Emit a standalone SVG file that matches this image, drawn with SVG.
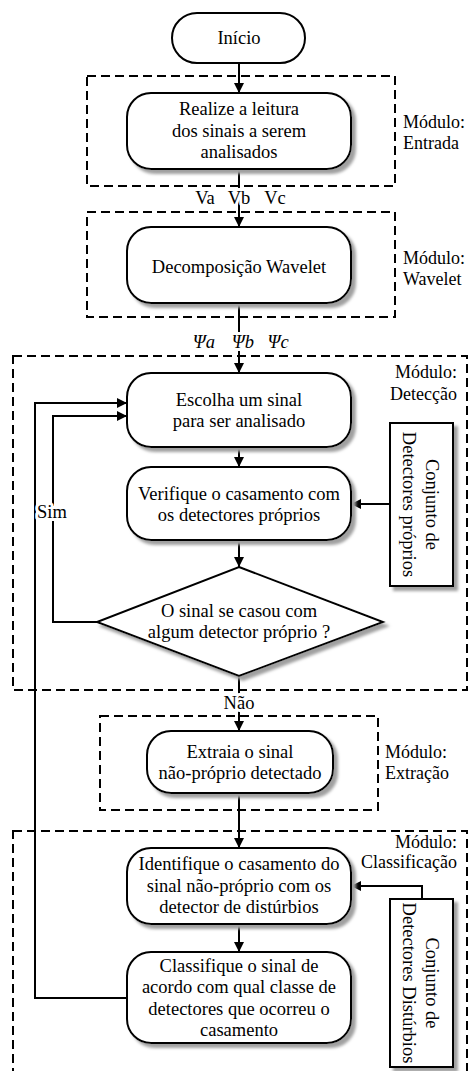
<svg xmlns="http://www.w3.org/2000/svg" width="468" height="1071" viewBox="0 0 468 1071">
<defs>
<filter id="sh" x="-10%" y="-10%" width="130%" height="130%">
<feGaussianBlur in="SourceAlpha" stdDeviation="1.5" result="b"/>
<feOffset in="b" dx="4" dy="4" result="o"/>
<feFlood flood-color="#a0a0a0"/>
<feComposite in2="o" operator="in" result="s"/>
<feMerge><feMergeNode in="s"/><feMergeNode in="SourceGraphic"/></feMerge>
</filter>
<marker id="ah" viewBox="0 0 10 10" refX="10" refY="5" markerWidth="10" markerHeight="10" markerUnits="userSpaceOnUse" orient="auto">
<path d="M0,0 L10,5 L0,10 z" fill="#000"/>
</marker>
<style>
.t{font-family:"Liberation Serif","Times New Roman",serif;font-size:18.5px;fill:#000;text-anchor:middle}
.l{font-family:"Liberation Serif","Times New Roman",serif;font-size:18px;fill:#000}
.n{fill:#fff;stroke:#000;stroke-width:2;filter:url(#sh)}
.d{fill:none;stroke:#000;stroke-width:2;stroke-dasharray:9,5}
.c{fill:none;stroke:#000;stroke-width:2}
.a{marker-end:url(#ah)}
.w{stroke:#fff;stroke-width:6;paint-order:stroke;stroke-linejoin:round}
</style>
</defs>
<rect width="468" height="1071" fill="#fff"/>

<g id="modules">
<rect class="d" x="87" y="76" width="308" height="110"/>
<rect class="d" x="87" y="212" width="308" height="105"/>
<rect class="d" x="13" y="356" width="454" height="334"/>
<rect class="d" x="100" y="716" width="278" height="94"/>
<rect class="d" x="13" y="831" width="454" height="250"/>
<text class="l" x="403" y="128">Módulo:</text>
<text class="l" x="403" y="149">Entrada</text>
<text class="l" x="403" y="264">Módulo:</text>
<text class="l" x="403" y="285">Wavelet</text>
<text class="l" x="457" y="378" text-anchor="end">Módulo:</text>
<text class="l" x="457" y="400" text-anchor="end">Detecção</text>
<text class="l" x="385" y="758">Módulo:</text>
<text class="l" x="385" y="779">Extração</text>
<text class="l" x="457" y="848" text-anchor="end">Módulo:</text>
<text class="l" x="457" y="868" text-anchor="end">Classificação</text>
</g>

<g id="connectors">
<path class="c a" d="M239,63 V93"/>
<path class="c a" d="M239,169 V227"/>
<path class="c a" d="M239,303 V373"/>
<path class="c a" d="M239,447 V467"/>
<path class="c a" d="M239,540 V567"/>
<path class="c a" d="M239,676 V731"/>
<path class="c a" d="M239,793 V848"/>
<path class="c a" d="M239,924 V952"/>
<path class="c a" d="M390,504 H351"/>
<path class="c a" d="M422,899 V886 H351"/>
<path class="c a" d="M97,622 H53 V416 H127"/>
<path class="c a" d="M127,998 H35 V403 H127"/>
<text class="t w" x="205" y="204">Va</text>
<text class="t w" x="239" y="204">Vb</text>
<text class="t w" x="275" y="204">Vc</text>
<text class="t w" x="204" y="348" font-style="italic">Ψa</text>
<text class="t w" x="243" y="348" font-style="italic">Ψb</text>
<text class="t w" x="278" y="348" font-style="italic">Ψc</text>
<text class="t w" x="52" y="518">Sim</text>
<text class="t w" x="239" y="709">Não</text>
</g>

<g id="inicio">
<rect x="172" y="13" width="133" height="50" rx="25" fill="#fff" stroke="#000" stroke-width="2"/>
<text class="t" x="239" y="44">Início</text>
</g>

<g id="leitura">
<rect class="n" x="127" y="93" width="224" height="76" rx="24"/>
<text class="t" x="239" y="115">Realize a leitura</text>
<text class="t" x="239" y="137">dos sinais a serem</text>
<text class="t" x="239" y="158">analisados</text>
</g>

<g id="wavelet">
<rect class="n" x="127" y="227" width="224" height="76" rx="24"/>
<text class="t" x="239" y="273">Decomposição Wavelet</text>
</g>

<g id="escolha">
<rect class="n" x="127" y="373" width="224" height="74" rx="24"/>
<text class="t" x="239" y="406">Escolha um sinal</text>
<text class="t" x="239" y="427">para ser analisado</text>
</g>

<g id="verifique">
<rect class="n" x="127" y="467" width="224" height="73" rx="24"/>
<text class="t" x="239" y="500">Verifique o casamento com</text>
<text class="t" x="239" y="521">os detectores próprios</text>
</g>

<g id="conjunto-proprios">
<rect class="n" x="390" y="423" width="63" height="163"/>
<text class="t" transform="translate(432,504.5) rotate(90)" dominant-baseline="central">Conjunto de</text>
<text class="t" transform="translate(409,504.5) rotate(90)" dominant-baseline="central">Detectores próprios</text>
</g>

<g id="decisao">
<polygon class="n" points="239,567 383,622 239,676 97,622"/>
<text class="t" x="239" y="617">O sinal se casou com</text>
<text class="t" x="239" y="638">algum detector próprio ?</text>
</g>

<g id="extraia">
<rect class="n" x="147" y="731" width="186" height="62" rx="24"/>
<text class="t" x="240" y="758">Extraia o sinal</text>
<text class="t" x="240" y="779">não-próprio detectado</text>
</g>

<g id="identifique">
<rect class="n" x="127" y="848" width="224" height="76" rx="24"/>
<text class="t" x="239" y="870">Identifique o casamento do</text>
<text class="t" x="239" y="892">sinal não-próprio com os</text>
<text class="t" x="239" y="913">detector de distúrbios</text>
</g>

<g id="classifique">
<rect class="n" x="127" y="952" width="224" height="91" rx="24"/>
<text class="t" x="239" y="972">Classifique o sinal de</text>
<text class="t" x="239" y="993">acordo com qual classe de</text>
<text class="t" x="239" y="1015">detectores que ocorreu o</text>
<text class="t" x="239" y="1036">casamento</text>
</g>

<g id="conjunto-disturbios">
<rect class="n" x="390" y="899" width="63" height="168"/>
<text class="t" transform="translate(432,983) rotate(90)" dominant-baseline="central">Conjunto de</text>
<text class="t" transform="translate(409,983) rotate(90)" dominant-baseline="central">Detectores Distúrbios</text>
</g>
</svg>
